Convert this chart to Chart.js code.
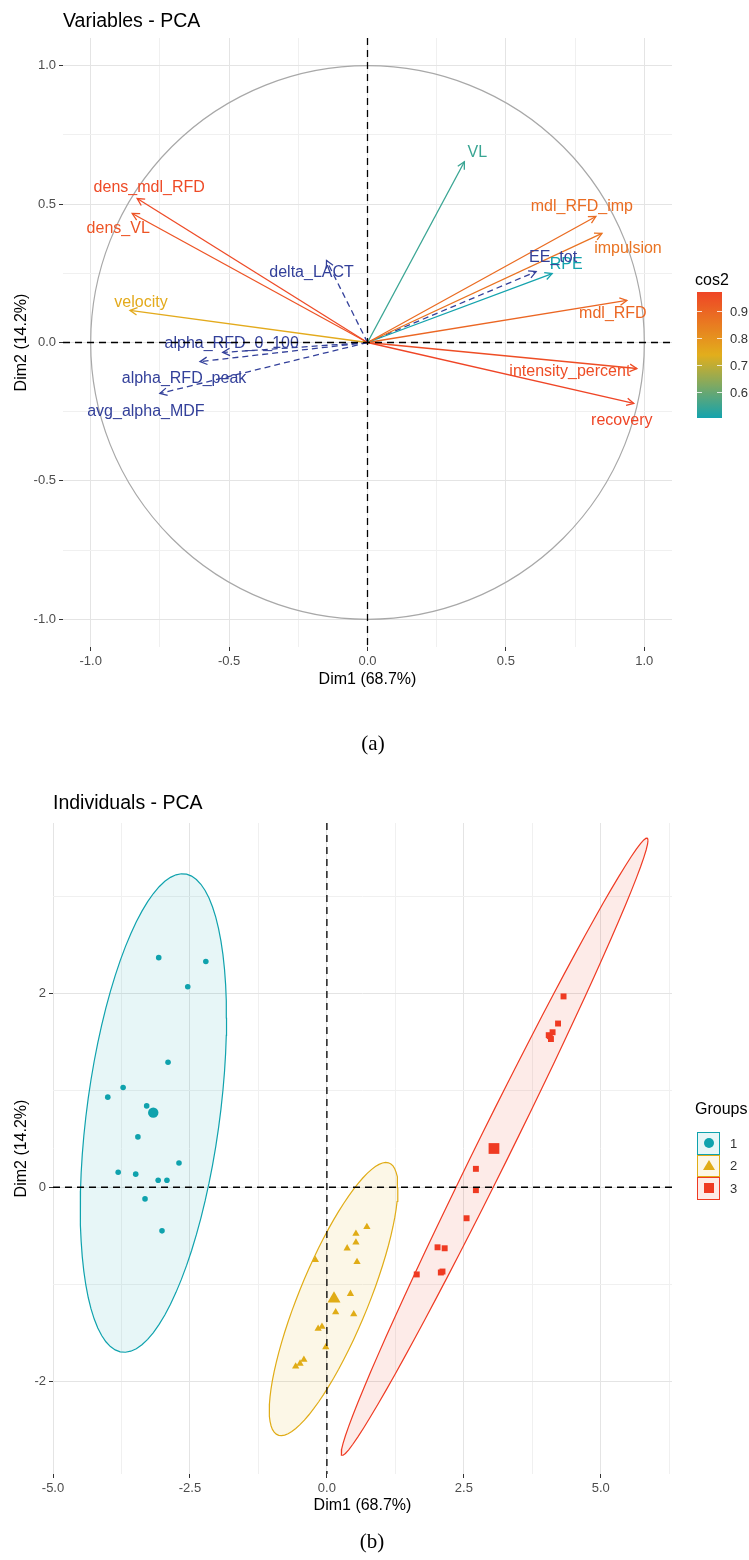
<!DOCTYPE html>
<html>
<head>
<meta charset="utf-8">
<script src="https://cdn.jsdelivr.net/npm/chart.js@4.4.1/dist/chart.umd.min.js"></script>
<style>
  html, body { margin:0; padding:0; background:#ffffff; }
  body { position:relative; width:749px; height:1560px; overflow:hidden; font-family:"Liberation Sans", Arial, Helvetica, sans-serif; color:#000; }
  canvas { position:absolute; left:0; }
  .txt { position:absolute; white-space:nowrap; line-height:1; }
  .cap { position:absolute; font-family:"Liberation Serif","DejaVu Serif",serif; font-size:21px; line-height:1; transform:translate(-50%,-50%); }
</style>
</head>
<body>
<canvas id="varChart" width="749" height="760" style="top:0"></canvas>
<canvas id="indChart" width="749" height="800" style="top:760px"></canvas>
<div class="cap" style="left:373px;top:743px">(a)</div>
<div class="cap" style="left:372px;top:1541px">(b)</div>
<div id="cosLegend"></div>
<div id="grpLegend"></div>
<script>
// ================= DATA =================
// (a) Variables - PCA : active variables (coloured by cos2)
const varNames = ['dens_mdl_RFD','dens_VL','velocity','VL','mdl_RFD_imp','impulsion','RPE','mdl_RFD','intensity_percent','recovery'];
const varDim1  = [-0.832, -0.850, -0.858, 0.350, 0.825, 0.847, 0.667, 0.937, 0.973, 0.962];
const varDim2  = [ 0.520,  0.466,  0.116, 0.653, 0.455, 0.394, 0.249, 0.152, -0.094, -0.220];
// supplementary quantitative variables (dashed blue)
const supNames = ['delta_LACT','EE_tot','alpha_RFD_0_100','alpha_RFD_peak','avg_alpha_MDF'];
const supDim1  = [-0.148, 0.609, -0.523, -0.605, -0.750];
const supDim2  = [ 0.296, 0.256, -0.036, -0.069, -0.184];
const varTicks      = [-1.0, -0.5, 0.0, 0.5, 1.0];
const varTickLabels = ['-1.0', '-0.5', '0.0', '0.5', '1.0'];
const cos2Ticks     = [0.6, 0.7, 0.8, 0.9];

// (b) Individuals - PCA
const grp1Dim1 = [-3.07, -2.21, -2.54, -2.90, -3.72, -4.00, -3.29, -3.45, -2.70, -3.81, -3.49, -3.08, -2.92, -3.32, -3.01];
const grp1Dim2 = [ 2.37,  2.33,  2.07,  1.29,  1.03,  0.93,  0.84,  0.52,  0.25, 0.155, 0.135, 0.072, 0.072, -0.12, -0.45];
const grp2Dim1 = [ 0.73,  0.53,  0.53,  0.37,  0.55, -0.21,  0.43,  0.16,  0.49, -0.16, -0.09, -0.02, -0.57, -0.49, -0.42];
const grp2Dim2 = [-0.41, -0.48, -0.57, -0.63, -0.77, -0.75, -1.10, -1.29, -1.31, -1.46, -1.44, -1.65, -1.85, -1.82, -1.78];
const grp3Dim1 = [ 4.32,  4.22,  4.05,  4.09,  4.07,  4.12,  2.72,  2.72,  2.55,  2.02,  2.15,  2.08,  2.11,  1.64];
const grp3Dim2 = [ 1.97,  1.69,  1.57,  1.53,  1.56,  1.60,  0.19, -0.03, -0.32, -0.62, -0.63, -0.88, -0.87, -0.90];
const groupLabels   = ['1', '2', '3'];
const centroidDim1  = [-3.17, 0.13, 3.05];
const centroidDim2  = [ 0.77, -1.15, 0.40];
const indXTicks      = [-5.0, -2.5, 0.0, 2.5, 5.0];
const indXTickLabels = ['-5.0', '-2.5', '0.0', '2.5', '5.0'];
const indYTicks      = [-2, 0, 2];
const indYTickLabels = ['-2', '0', '2'];

// ================= STYLE =================
const FONT = '"Liberation Sans", Arial, Helvetica, sans-serif';
const GRADIENT = ['#14A3AD', '#E2AE1C', '#EF4526'];
const SUP_COLOR = '#33409A';
const GROUP_COLORS = ['#0FA2AD', '#E0AC16', '#EF3A22'];
const GROUP_SHAPES = ['circle', 'triangle', 'rect'];
const POINT_R = [2.8, 4.2, 4.2];
const CENTROID_R = [5.2, 7.5, 7.6];
// label placement (pixel offsets from arrow tip)
const VAR_LABEL_OFFSETS = [[12,-11],[-14,15],[11,-8],[13,-9],[-14,-10],[26,15],[14,-9],[-14,13],[-67,3],[-12,17]];
const SUP_LABEL_OFFSETS = [[-15,12],[17,-14],[9,-9],[-16,17],[-14,18]];

function hexRgb(h){ const n = parseInt(h.slice(1), 16); return [(n>>16)&255, (n>>8)&255, n&255]; }
function mix(a, b, t){ const A = hexRgb(a), B = hexRgb(b); return 'rgb(' + A.map((v,i)=>Math.round(v + (B[i]-v)*t)).join(',') + ')'; }
function gradColor(t){ t = Math.max(0, Math.min(1, t)); return t < 0.5 ? mix(GRADIENT[0], GRADIENT[1], t*2) : mix(GRADIENT[1], GRADIENT[2], (t-0.5)*2); }
function rgba(h, a){ const c = hexRgb(h); return 'rgba(' + c[0] + ',' + c[1] + ',' + c[2] + ',' + a + ')'; }

function minorTicks(major, min, max){
  const step = major[1] - major[0];
  const out = [];
  for (let v = major[0] - step/2; v <= max + 1e-9; v += step) if (v >= min - 1e-9) out.push(+v.toFixed(6));
  return out;
}
function isIn(list, v){ return list.some(m => Math.abs(m - v) < 1e-9); }

function axisCfg(o){
  const minors = minorTicks(o.major, o.min, o.max);
  const all = o.major.concat(minors).sort((a,b)=>a-b);
  return {
    type: 'linear', min: o.min, max: o.max,
    afterBuildTicks: s => { s.ticks = all.map(v => ({value: v})); },
    afterFit: s => { if (o.axis === 'x') s.height = o.size; else s.width = o.size; },
    ticks: {
      autoSkip: false, maxRotation: 0, padding: 3, color: '#4D4D4D',
      font: {size: 13, family: FONT},
      callback: (v) => { const i = o.major.findIndex(m => Math.abs(m - v) < 1e-9); return i >= 0 ? o.labels[i] : ''; }
    },
    grid: {
      drawTicks: true, tickLength: 4, lineWidth: 1,
      color: c => (c.tick && isIn(o.major, c.tick.value)) ? '#E4E4E4' : '#F0F0F0',
      tickColor: c => (c.tick && isIn(o.major, c.tick.value)) ? '#333333' : 'rgba(0,0,0,0)',
      tickWidth: 1
    },
    border: {display: false},
    title: {display: true, text: o.title, color: '#000', font: {size: 16, family: FONT}, padding: o.titlePad}
  };
}

function drawArrowHead(ctx, x0, y0, x1, y1, color){
  const a = Math.atan2(y1 - y0, x1 - x0), len = 8, ang = Math.PI / 6.5;
  ctx.save();
  ctx.setLineDash([]);
  ctx.beginPath();
  ctx.moveTo(x1 - len*Math.cos(a - ang), y1 - len*Math.sin(a - ang));
  ctx.lineTo(x1, y1);
  ctx.lineTo(x1 - len*Math.cos(a + ang), y1 - len*Math.sin(a + ang));
  ctx.strokeStyle = color; ctx.lineWidth = 1.3; ctx.lineJoin = 'miter';
  ctx.stroke();
  ctx.restore();
}
function drawZeroLines(chart){
  const {ctx, chartArea: ca, scales: {x, y}} = chart;
  const x0 = x.getPixelForValue(0), y0 = y.getPixelForValue(0);
  ctx.save();
  ctx.setLineDash([7, 5]);
  ctx.strokeStyle = '#000'; ctx.lineWidth = 1.3;
  ctx.beginPath(); ctx.moveTo(x0, ca.top); ctx.lineTo(x0, ca.bottom); ctx.stroke();
  ctx.beginPath(); ctx.moveTo(ca.left, y0); ctx.lineTo(ca.right, y0); ctx.stroke();
  ctx.restore();
}

// ================= (a) VARIABLES CHART =================
const cos2 = varDim1.map((v, i) => v*v + varDim2[i]*varDim2[i]);
const cMin = Math.min(...cos2), cMax = Math.max(...cos2);
const varColors = cos2.map(c => gradColor((c - cMin) / (cMax - cMin)));

const varDatasets = [];
varNames.forEach((n, i) => varDatasets.push({
  label: n, data: [{x: 0, y: 0}, {x: varDim1[i], y: varDim2[i]}],
  showLine: true, borderColor: varColors[i], backgroundColor: varColors[i], borderWidth: 1.3,
  pointRadius: 0, fill: false, arrow: true, labelOffset: VAR_LABEL_OFFSETS[i]
}));
supNames.forEach((n, i) => varDatasets.push({
  label: n, data: [{x: 0, y: 0}, {x: supDim1[i], y: supDim2[i]}],
  showLine: true, borderColor: SUP_COLOR, backgroundColor: SUP_COLOR, borderWidth: 1.3, borderDash: [6, 4],
  pointRadius: 0, fill: false, arrow: true, labelOffset: SUP_LABEL_OFFSETS[i]
}));

const varPlugin = {
  id: 'varDecor',
  beforeDatasetsDraw(chart){
    const {ctx, scales: {x, y}} = chart;
    const cx = x.getPixelForValue(0), cy = y.getPixelForValue(0);
    const rx = x.getPixelForValue(1) - cx, ry = cy - y.getPixelForValue(1);
    ctx.save();
    ctx.beginPath(); ctx.ellipse(cx, cy, rx, ry, 0, 0, Math.PI*2);
    ctx.strokeStyle = '#A8A8A8'; ctx.lineWidth = 1.2; ctx.stroke();
    ctx.restore();
  },
  afterDatasetsDraw(chart){
    const ctx = chart.ctx;
    chart.data.datasets.forEach((ds, i) => {
      const p = chart.getDatasetMeta(i).data;
      drawArrowHead(ctx, p[0].x, p[0].y, p[1].x, p[1].y, ds.borderColor);
    });
    ctx.save();
    ctx.font = '16px ' + FONT; ctx.textAlign = 'center'; ctx.textBaseline = 'middle';
    chart.data.datasets.forEach((ds, i) => {
      const p = chart.getDatasetMeta(i).data[1];
      ctx.fillStyle = ds.borderColor;
      ctx.fillText(ds.label, p.x + ds.labelOffset[0], p.y + ds.labelOffset[1]);
    });
    ctx.restore();
    drawZeroLines(chart);
  }
};

new Chart(document.getElementById('varChart'), {
  type: 'scatter',
  data: {datasets: varDatasets},
  options: {
    responsive: false, animation: false, events: [],
    layout: {padding: {left: 5, right: 77, top: 0, bottom: 63}},
    plugins: {
      legend: {display: false}, tooltip: {enabled: false},
      title: {display: true, text: 'Variables - PCA', align: 'start', fullSize: false, color: '#000',
              font: {size: 19.5, family: FONT, weight: 'normal'}, padding: {top: 10, bottom: 4.6}}
    },
    scales: {
      x: axisCfg({axis: 'x', min: -1.1, max: 1.1, major: varTicks, labels: varTickLabels, size: 50, title: 'Dim1 (68.7%)', titlePad: {top: 0, bottom: 7.4}}),
      y: axisCfg({axis: 'y', min: -1.1, max: 1.1, major: varTicks, labels: varTickLabels, size: 58, title: 'Dim2 (14.2%)', titlePad: {top: 7.4, bottom: 0}})
    }
  },
  plugins: [varPlugin]
});

// cos2 colour bar legend (HTML)
(function(){
  const L = document.getElementById('cosLegend');
  const barTop = 292, barH = 126, barLeft = 697, barW = 25;
  const stops = [];
  for (let k = 0; k <= 20; k++) stops.push(gradColor(k/20) + ' ' + (k*5) + '%');
  let html = '<div class="txt" style="left:695px;top:272px;font-size:16px;">cos2</div>';
  html += '<div style="position:absolute;left:' + barLeft + 'px;top:' + barTop + 'px;width:' + barW + 'px;height:' + barH + 'px;background:linear-gradient(to top,' + stops.join(',') + ');"></div>';
  cos2Ticks.forEach(v => {
    const yy = barTop + barH - (v - cMin) / (cMax - cMin) * barH;
    html += '<div style="position:absolute;left:' + barLeft + 'px;top:' + (yy-0.5) + 'px;width:5px;height:1px;background:rgba(255,255,255,0.8)"></div>';
    html += '<div style="position:absolute;left:' + (barLeft+barW-5) + 'px;top:' + (yy-0.5) + 'px;width:5px;height:1px;background:rgba(255,255,255,0.8)"></div>';
    html += '<div class="txt" style="left:730px;top:' + (yy-6.5) + 'px;font-size:13px;color:#333;">' + v.toFixed(1) + '</div>';
  });
  L.innerHTML = html;
})();

// ================= (b) INDIVIDUALS CHART =================
function ellipsePts(xs, ys, level, segs){
  const n = xs.length;
  const mx = xs.reduce((a,b)=>a+b,0)/n, my = ys.reduce((a,b)=>a+b,0)/n;
  let sxx = 0, syy = 0, sxy = 0;
  for (let i = 0; i < n; i++){ const dx = xs[i]-mx, dy = ys[i]-my; sxx += dx*dx; syy += dy*dy; sxy += dx*dy; }
  sxx /= (n-1); syy /= (n-1); sxy /= (n-1);
  const d = n - 1;
  const F = (d/2) * (Math.pow(1 - level, -2/d) - 1);   // qf(level, 2, n-1)
  const r = Math.sqrt(2 * F);
  const a = Math.sqrt(sxx), b = sxy / a, c = Math.sqrt(Math.max(syy - b*b, 0));
  const pts = [];
  for (let k = 0; k <= segs; k++){
    const t = 2*Math.PI*k/segs, ct = Math.cos(t), st = Math.sin(t);
    pts.push({x: mx + r*ct*a, y: my + r*(ct*b + st*c)});
  }
  return pts;
}

const groupX = [grp1Dim1, grp2Dim1, grp3Dim1];
const groupY = [grp1Dim2, grp2Dim2, grp3Dim2];
const indDatasets = [];
groupX.forEach((gx, k) => {
  const col = GROUP_COLORS[k];
  indDatasets.push({
    label: 'ellipse ' + groupLabels[k], data: ellipsePts(gx, groupY[k], 0.95, 80),
    showLine: true, fill: 'shape', tension: 0, backgroundColor: rgba(col, 0.1), borderColor: col, borderWidth: 1.2,
    pointRadius: 0, order: 10
  });
  indDatasets.push({
    label: groupLabels[k], data: gx.map((v, i) => ({x: v, y: groupY[k][i]})),
    pointStyle: GROUP_SHAPES[k], pointRadius: POINT_R[k], backgroundColor: col, borderColor: col,
    pointBorderWidth: 0, showLine: false, order: 2
  });
  indDatasets.push({
    label: 'centre ' + groupLabels[k], data: [{x: centroidDim1[k], y: centroidDim2[k]}],
    pointStyle: GROUP_SHAPES[k], pointRadius: CENTROID_R[k], backgroundColor: col, borderColor: col,
    pointBorderWidth: 0, showLine: false, order: 1
  });
});

new Chart(document.getElementById('indChart'), {
  type: 'scatter',
  data: {datasets: indDatasets},
  options: {
    responsive: false, animation: false, events: [],
    layout: {padding: {left: 5, right: 77, top: 0, bottom: 36}},
    plugins: {
      legend: {display: false}, tooltip: {enabled: false},
      title: {display: true, text: 'Individuals - PCA', align: 'start', fullSize: false, color: '#000',
              font: {size: 19.5, family: FONT, weight: 'normal'}, padding: {top: 31.8, bottom: 7.8}}
    },
    scales: {
      x: axisCfg({axis: 'x', min: -5.0, max: 6.3, major: indXTicks, labels: indXTickLabels, size: 50, title: 'Dim1 (68.7%)', titlePad: {top: 0, bottom: 8.4}}),
      y: axisCfg({axis: 'y', min: -2.96, max: 3.76, major: indYTicks, labels: indYTickLabels, size: 48, title: 'Dim2 (14.2%)', titlePad: {top: 7.4, bottom: 0}})
    }
  },
  plugins: [{id: 'zeroLines', afterDatasetsDraw: drawZeroLines}]
});

// Groups legend (HTML)
(function(){
  const L = document.getElementById('grpLegend');
  let html = '<div class="txt" style="left:695px;top:1101px;font-size:16px;">Groups</div>';
  groupLabels.forEach((g, k) => {
    const col = GROUP_COLORS[k];
    const top = 1132 + k*22.5;
    html += '<div style="position:absolute;left:697px;top:' + top + 'px;width:21px;height:20.5px;border:1px solid ' + col + ';background:' + rgba(col, 0.1) + ';"></div>';
    const cx = 708.5, cy = top + 11.25;
    if (GROUP_SHAPES[k] === 'circle') {
      html += '<div style="position:absolute;left:' + (cx-5) + 'px;top:' + (cy-5) + 'px;width:10px;height:10px;border-radius:50%;background:' + col + ';"></div>';
    } else if (GROUP_SHAPES[k] === 'triangle') {
      html += '<div style="position:absolute;left:' + (cx-6) + 'px;top:' + (cy-6) + 'px;width:0;height:0;border-left:6px solid transparent;border-right:6px solid transparent;border-bottom:10.4px solid ' + col + ';"></div>';
    } else {
      html += '<div style="position:absolute;left:' + (cx-5) + 'px;top:' + (cy-5) + 'px;width:10px;height:10px;background:' + col + ';"></div>';
    }
    html += '<div class="txt" style="left:730px;top:' + (cy-6.5) + 'px;font-size:13px;color:#333;">' + g + '</div>';
  });
  L.innerHTML = html;
})();
</script>
</body>
</html>
